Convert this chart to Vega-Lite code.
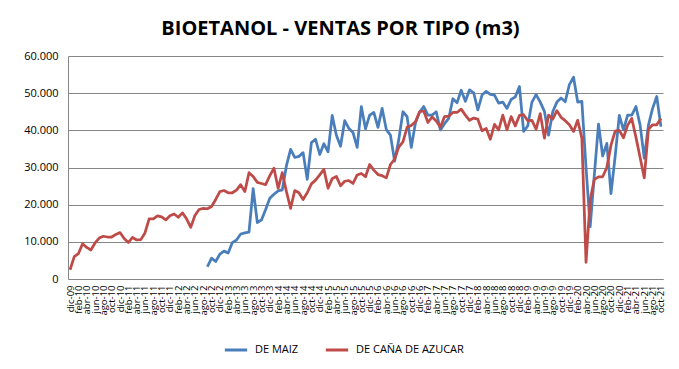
{
  "$schema": "https://vega.github.io/schema/vega-lite/v6.json",
  "autosize": {"type": "none"},
  "width": 595,
  "height": 223,
  "padding": {"left": 68, "top": 56, "right": 16, "bottom": 90},
  "background": "white",
  "title": {
    "text": "BIOETANOL - VENTAS POR TIPO (m3)",
    "font": "Open Sans",
    "fontSize": 20,
    "fontWeight": "bold",
    "color": "#000000",
    "anchor": "middle",
    "dx": -25,
    "offset": 11
  },
  "data": {
    "values": [
      {"mes": "dic-09", "DE MAIZ": null, "DE CAÑA DE AZUCAR": 2500},
      {"mes": "ene-10", "DE MAIZ": null, "DE CAÑA DE AZUCAR": 6000},
      {"mes": "feb-10", "DE MAIZ": null, "DE CAÑA DE AZUCAR": 6800},
      {"mes": "mar-10", "DE MAIZ": null, "DE CAÑA DE AZUCAR": 9500},
      {"mes": "abr-10", "DE MAIZ": null, "DE CAÑA DE AZUCAR": 8500},
      {"mes": "may-10", "DE MAIZ": null, "DE CAÑA DE AZUCAR": 7800},
      {"mes": "jun-10", "DE MAIZ": null, "DE CAÑA DE AZUCAR": 9700},
      {"mes": "jul-10", "DE MAIZ": null, "DE CAÑA DE AZUCAR": 11000},
      {"mes": "ago-10", "DE MAIZ": null, "DE CAÑA DE AZUCAR": 11500},
      {"mes": "sep-10", "DE MAIZ": null, "DE CAÑA DE AZUCAR": 11300},
      {"mes": "oct-10", "DE MAIZ": null, "DE CAÑA DE AZUCAR": 11300},
      {"mes": "nov-10", "DE MAIZ": null, "DE CAÑA DE AZUCAR": 12000},
      {"mes": "dic-10", "DE MAIZ": null, "DE CAÑA DE AZUCAR": 12500},
      {"mes": "ene-11", "DE MAIZ": null, "DE CAÑA DE AZUCAR": 10900},
      {"mes": "feb-11", "DE MAIZ": null, "DE CAÑA DE AZUCAR": 9800},
      {"mes": "mar-11", "DE MAIZ": null, "DE CAÑA DE AZUCAR": 11200},
      {"mes": "abr-11", "DE MAIZ": null, "DE CAÑA DE AZUCAR": 10500},
      {"mes": "may-11", "DE MAIZ": null, "DE CAÑA DE AZUCAR": 10600},
      {"mes": "jun-11", "DE MAIZ": null, "DE CAÑA DE AZUCAR": 12400},
      {"mes": "jul-11", "DE MAIZ": null, "DE CAÑA DE AZUCAR": 16200},
      {"mes": "ago-11", "DE MAIZ": null, "DE CAÑA DE AZUCAR": 16200},
      {"mes": "sep-11", "DE MAIZ": null, "DE CAÑA DE AZUCAR": 17000},
      {"mes": "oct-11", "DE MAIZ": null, "DE CAÑA DE AZUCAR": 16700},
      {"mes": "nov-11", "DE MAIZ": null, "DE CAÑA DE AZUCAR": 15900},
      {"mes": "dic-11", "DE MAIZ": null, "DE CAÑA DE AZUCAR": 17000},
      {"mes": "ene-12", "DE MAIZ": null, "DE CAÑA DE AZUCAR": 17500},
      {"mes": "feb-12", "DE MAIZ": null, "DE CAÑA DE AZUCAR": 16600},
      {"mes": "mar-12", "DE MAIZ": null, "DE CAÑA DE AZUCAR": 17800},
      {"mes": "abr-12", "DE MAIZ": null, "DE CAÑA DE AZUCAR": 16200},
      {"mes": "may-12", "DE MAIZ": null, "DE CAÑA DE AZUCAR": 13900},
      {"mes": "jun-12", "DE MAIZ": null, "DE CAÑA DE AZUCAR": 17100},
      {"mes": "jul-12", "DE MAIZ": null, "DE CAÑA DE AZUCAR": 18700},
      {"mes": "ago-12", "DE MAIZ": null, "DE CAÑA DE AZUCAR": 19000},
      {"mes": "sep-12", "DE MAIZ": 3300, "DE CAÑA DE AZUCAR": 18900},
      {"mes": "oct-12", "DE MAIZ": 5600, "DE CAÑA DE AZUCAR": 19500},
      {"mes": "nov-12", "DE MAIZ": 4700, "DE CAÑA DE AZUCAR": 21400},
      {"mes": "dic-12", "DE MAIZ": 6700, "DE CAÑA DE AZUCAR": 23500},
      {"mes": "ene-13", "DE MAIZ": 7500, "DE CAÑA DE AZUCAR": 23800},
      {"mes": "feb-13", "DE MAIZ": 7000, "DE CAÑA DE AZUCAR": 23200},
      {"mes": "mar-13", "DE MAIZ": 9800, "DE CAÑA DE AZUCAR": 23200},
      {"mes": "abr-13", "DE MAIZ": 10500, "DE CAÑA DE AZUCAR": 23900},
      {"mes": "may-13", "DE MAIZ": 12100, "DE CAÑA DE AZUCAR": 25400},
      {"mes": "jun-13", "DE MAIZ": 12400, "DE CAÑA DE AZUCAR": 23500},
      {"mes": "jul-13", "DE MAIZ": 12600, "DE CAÑA DE AZUCAR": 28600},
      {"mes": "ago-13", "DE MAIZ": 24300, "DE CAÑA DE AZUCAR": 27600},
      {"mes": "sep-13", "DE MAIZ": 15200, "DE CAÑA DE AZUCAR": 26000},
      {"mes": "oct-13", "DE MAIZ": 15900, "DE CAÑA DE AZUCAR": 25700},
      {"mes": "nov-13", "DE MAIZ": 18700, "DE CAÑA DE AZUCAR": 25400},
      {"mes": "dic-13", "DE MAIZ": 21700, "DE CAÑA DE AZUCAR": 27800},
      {"mes": "ene-14", "DE MAIZ": 22800, "DE CAÑA DE AZUCAR": 29800},
      {"mes": "feb-14", "DE MAIZ": 23700, "DE CAÑA DE AZUCAR": 24400},
      {"mes": "mar-14", "DE MAIZ": 24000, "DE CAÑA DE AZUCAR": 28600},
      {"mes": "abr-14", "DE MAIZ": 30500, "DE CAÑA DE AZUCAR": 23500},
      {"mes": "may-14", "DE MAIZ": 34900, "DE CAÑA DE AZUCAR": 19000},
      {"mes": "jun-14", "DE MAIZ": 32700, "DE CAÑA DE AZUCAR": 23800},
      {"mes": "jul-14", "DE MAIZ": 33000, "DE CAÑA DE AZUCAR": 23200},
      {"mes": "ago-14", "DE MAIZ": 34000, "DE CAÑA DE AZUCAR": 21400},
      {"mes": "sep-14", "DE MAIZ": 26800, "DE CAÑA DE AZUCAR": 23200},
      {"mes": "oct-14", "DE MAIZ": 36700, "DE CAÑA DE AZUCAR": 25600},
      {"mes": "nov-14", "DE MAIZ": 37600, "DE CAÑA DE AZUCAR": 26600},
      {"mes": "dic-14", "DE MAIZ": 33500, "DE CAÑA DE AZUCAR": 28000},
      {"mes": "ene-15", "DE MAIZ": 36400, "DE CAÑA DE AZUCAR": 29500},
      {"mes": "feb-15", "DE MAIZ": 34200, "DE CAÑA DE AZUCAR": 24400},
      {"mes": "mar-15", "DE MAIZ": 44000, "DE CAÑA DE AZUCAR": 27000},
      {"mes": "abr-15", "DE MAIZ": 38700, "DE CAÑA DE AZUCAR": 27600},
      {"mes": "may-15", "DE MAIZ": 35700, "DE CAÑA DE AZUCAR": 25100},
      {"mes": "jun-15", "DE MAIZ": 42600, "DE CAÑA DE AZUCAR": 26300},
      {"mes": "jul-15", "DE MAIZ": 40500, "DE CAÑA DE AZUCAR": 26500},
      {"mes": "ago-15", "DE MAIZ": 39400, "DE CAÑA DE AZUCAR": 25700},
      {"mes": "sep-15", "DE MAIZ": 35400, "DE CAÑA DE AZUCAR": 28000},
      {"mes": "oct-15", "DE MAIZ": 46400, "DE CAÑA DE AZUCAR": 28400},
      {"mes": "nov-15", "DE MAIZ": 40400, "DE CAÑA DE AZUCAR": 27500},
      {"mes": "dic-15", "DE MAIZ": 44100, "DE CAÑA DE AZUCAR": 30800},
      {"mes": "ene-16", "DE MAIZ": 44800, "DE CAÑA DE AZUCAR": 29300},
      {"mes": "feb-16", "DE MAIZ": 40800, "DE CAÑA DE AZUCAR": 28100},
      {"mes": "mar-16", "DE MAIZ": 45900, "DE CAÑA DE AZUCAR": 27800},
      {"mes": "abr-16", "DE MAIZ": 40200, "DE CAÑA DE AZUCAR": 27200},
      {"mes": "may-16", "DE MAIZ": 38700, "DE CAÑA DE AZUCAR": 30800},
      {"mes": "jun-16", "DE MAIZ": 31700, "DE CAÑA DE AZUCAR": 32300},
      {"mes": "jul-16", "DE MAIZ": 37500, "DE CAÑA DE AZUCAR": 35500},
      {"mes": "ago-16", "DE MAIZ": 45000, "DE CAÑA DE AZUCAR": 36900},
      {"mes": "sep-16", "DE MAIZ": 43700, "DE CAÑA DE AZUCAR": 40800},
      {"mes": "oct-16", "DE MAIZ": 35400, "DE CAÑA DE AZUCAR": 41300},
      {"mes": "nov-16", "DE MAIZ": 42000, "DE CAÑA DE AZUCAR": 42300},
      {"mes": "dic-16", "DE MAIZ": 44900, "DE CAÑA DE AZUCAR": 45000},
      {"mes": "ene-17", "DE MAIZ": 46400, "DE CAÑA DE AZUCAR": 45200},
      {"mes": "feb-17", "DE MAIZ": 44100, "DE CAÑA DE AZUCAR": 42100},
      {"mes": "mar-17", "DE MAIZ": 44100, "DE CAÑA DE AZUCAR": 43600},
      {"mes": "abr-17", "DE MAIZ": 45000, "DE CAÑA DE AZUCAR": 42500},
      {"mes": "may-17", "DE MAIZ": 40100, "DE CAÑA DE AZUCAR": 40800},
      {"mes": "jun-17", "DE MAIZ": 41800, "DE CAÑA DE AZUCAR": 43700},
      {"mes": "jul-17", "DE MAIZ": 43200, "DE CAÑA DE AZUCAR": 43800},
      {"mes": "ago-17", "DE MAIZ": 48500, "DE CAÑA DE AZUCAR": 44800},
      {"mes": "sep-17", "DE MAIZ": 47400, "DE CAÑA DE AZUCAR": 44800},
      {"mes": "oct-17", "DE MAIZ": 50800, "DE CAÑA DE AZUCAR": 45700},
      {"mes": "nov-17", "DE MAIZ": 47800, "DE CAÑA DE AZUCAR": 44100},
      {"mes": "dic-17", "DE MAIZ": 50900, "DE CAÑA DE AZUCAR": 42700},
      {"mes": "ene-18", "DE MAIZ": 50100, "DE CAÑA DE AZUCAR": 43300},
      {"mes": "feb-18", "DE MAIZ": 45500, "DE CAÑA DE AZUCAR": 43000},
      {"mes": "mar-18", "DE MAIZ": 49500, "DE CAÑA DE AZUCAR": 39900},
      {"mes": "abr-18", "DE MAIZ": 50500, "DE CAÑA DE AZUCAR": 40500},
      {"mes": "may-18", "DE MAIZ": 49700, "DE CAÑA DE AZUCAR": 37600},
      {"mes": "jun-18", "DE MAIZ": 49500, "DE CAÑA DE AZUCAR": 41600},
      {"mes": "jul-18", "DE MAIZ": 47300, "DE CAÑA DE AZUCAR": 40100},
      {"mes": "ago-18", "DE MAIZ": 47600, "DE CAÑA DE AZUCAR": 44100},
      {"mes": "sep-18", "DE MAIZ": 45900, "DE CAÑA DE AZUCAR": 40100},
      {"mes": "oct-18", "DE MAIZ": 48300, "DE CAÑA DE AZUCAR": 43700},
      {"mes": "nov-18", "DE MAIZ": 49000, "DE CAÑA DE AZUCAR": 41200},
      {"mes": "dic-18", "DE MAIZ": 51800, "DE CAÑA DE AZUCAR": 44000},
      {"mes": "ene-19", "DE MAIZ": 39700, "DE CAÑA DE AZUCAR": 44200},
      {"mes": "feb-19", "DE MAIZ": 41200, "DE CAÑA DE AZUCAR": 42600},
      {"mes": "mar-19", "DE MAIZ": 47600, "DE CAÑA DE AZUCAR": 42700},
      {"mes": "abr-19", "DE MAIZ": 49600, "DE CAÑA DE AZUCAR": 40300},
      {"mes": "may-19", "DE MAIZ": 47600, "DE CAÑA DE AZUCAR": 44500},
      {"mes": "jun-19", "DE MAIZ": 45100, "DE CAÑA DE AZUCAR": 37900},
      {"mes": "jul-19", "DE MAIZ": 38700, "DE CAÑA DE AZUCAR": 44100},
      {"mes": "ago-19", "DE MAIZ": 45000, "DE CAÑA DE AZUCAR": 43000},
      {"mes": "sep-19", "DE MAIZ": 47600, "DE CAÑA DE AZUCAR": 45300},
      {"mes": "oct-19", "DE MAIZ": 48700, "DE CAÑA DE AZUCAR": 43500},
      {"mes": "nov-19", "DE MAIZ": 47700, "DE CAÑA DE AZUCAR": 42600},
      {"mes": "dic-19", "DE MAIZ": 52300, "DE CAÑA DE AZUCAR": 41500},
      {"mes": "ene-20", "DE MAIZ": 54300, "DE CAÑA DE AZUCAR": 39700},
      {"mes": "feb-20", "DE MAIZ": 47600, "DE CAÑA DE AZUCAR": 42700},
      {"mes": "mar-20", "DE MAIZ": 47800, "DE CAÑA DE AZUCAR": 37900},
      {"mes": "abr-20", "DE MAIZ": 30000, "DE CAÑA DE AZUCAR": 4500},
      {"mes": "may-20", "DE MAIZ": 14100, "DE CAÑA DE AZUCAR": 21300},
      {"mes": "jun-20", "DE MAIZ": 28000, "DE CAÑA DE AZUCAR": 26800},
      {"mes": "jul-20", "DE MAIZ": 41700, "DE CAÑA DE AZUCAR": 27500},
      {"mes": "ago-20", "DE MAIZ": 33100, "DE CAÑA DE AZUCAR": 27500},
      {"mes": "sep-20", "DE MAIZ": 36500, "DE CAÑA DE AZUCAR": 30000},
      {"mes": "oct-20", "DE MAIZ": 23000, "DE CAÑA DE AZUCAR": 36000},
      {"mes": "nov-20", "DE MAIZ": 33000, "DE CAÑA DE AZUCAR": 39800},
      {"mes": "dic-20", "DE MAIZ": 44000, "DE CAÑA DE AZUCAR": 40000},
      {"mes": "ene-21", "DE MAIZ": 40100, "DE CAÑA DE AZUCAR": 38000},
      {"mes": "feb-21", "DE MAIZ": 44100, "DE CAÑA DE AZUCAR": 41400},
      {"mes": "mar-21", "DE MAIZ": 44100, "DE CAÑA DE AZUCAR": 43200},
      {"mes": "abr-21", "DE MAIZ": 46400, "DE CAÑA DE AZUCAR": 38100},
      {"mes": "may-21", "DE MAIZ": 41400, "DE CAÑA DE AZUCAR": 32700},
      {"mes": "jun-21", "DE MAIZ": 32500, "DE CAÑA DE AZUCAR": 27200},
      {"mes": "jul-21", "DE MAIZ": 41400, "DE CAÑA DE AZUCAR": 40300},
      {"mes": "ago-21", "DE MAIZ": 45900, "DE CAÑA DE AZUCAR": 41500},
      {"mes": "sep-21", "DE MAIZ": 49100, "DE CAÑA DE AZUCAR": 41500},
      {"mes": "oct-21", "DE MAIZ": 41000, "DE CAÑA DE AZUCAR": 43200}
    ]
  },
  "transform": [
    {"fold": ["DE MAIZ", "DE CAÑA DE AZUCAR"], "as": ["serie", "valor"]}
  ],
  "mark": {"type": "line", "strokeWidth": 2.75, "strokeJoin": "round", "strokeCap": "butt"},
  "encoding": {
    "x": {
      "field": "mes",
      "type": "ordinal",
      "sort": null,
      "scale": {"type": "point", "padding": 0.5},
      "axis": {
        "title": null,
        "labelAngle": -90,
        "labelFont": "Open Sans",
        "labelFontSize": 9.5,
        "labelColor": "#000000",
        "labelPadding": 6,
        "labelOverlap": false,
        "ticks": false,
        "grid": false,
        "domainColor": "#868686",
        "domainWidth": 1,
        "values": ["dic-09","feb-10","abr-10","jun-10","ago-10","oct-10","dic-10","feb-11","abr-11","jun-11","ago-11","oct-11","dic-11","feb-12","abr-12","jun-12","ago-12","oct-12","dic-12","feb-13","abr-13","jun-13","ago-13","oct-13","dic-13","feb-14","abr-14","jun-14","ago-14","oct-14","dic-14","feb-15","abr-15","jun-15","ago-15","oct-15","dic-15","feb-16","abr-16","jun-16","ago-16","oct-16","dic-16","feb-17","abr-17","jun-17","ago-17","oct-17","dic-17","feb-18","abr-18","jun-18","ago-18","oct-18","dic-18","feb-19","abr-19","jun-19","ago-19","oct-19","dic-19","feb-20","abr-20","jun-20","ago-20","oct-20","dic-20","feb-21","abr-21","jun-21","ago-21","oct-21"]
      }
    },
    "y": {
      "field": "valor",
      "type": "quantitative",
      "scale": {"domain": [0, 60000], "nice": false, "zero": true},
      "axis": {
        "title": null,
        "values": [0, 10000, 20000, 30000, 40000, 50000, 60000],
        "labelExpr": "replace(format(datum.value, ',d'), ',', '.')",
        "labelFont": "Open Sans",
        "labelFontSize": 11,
        "labelColor": "#000000",
        "labelPadding": 10,
        "ticks": false,
        "grid": true,
        "gridColor": "#868686",
        "gridWidth": 1,
        "domainColor": "#868686",
        "domainWidth": 1
      }
    },
    "color": {
      "field": "serie",
      "type": "nominal",
      "scale": {"domain": ["DE MAIZ", "DE CAÑA DE AZUCAR"], "range": ["#4A7EBB", "#BE4B48"]},
      "legend": {
        "title": null,
        "orient": "none",
        "legendX": 155,
        "legendY": 281,
        "direction": "horizontal",
        "symbolType": "stroke",
        "symbolStrokeWidth": 3,
        "symbolSize": 500,
        "labelFont": "Open Sans",
        "labelFontSize": 11,
        "labelColor": "#000000",
        "labelOffset": 6,
        "columnPadding": 20
      }
    }
  },
  "config": {
    "view": {"stroke": null}
  }
}
